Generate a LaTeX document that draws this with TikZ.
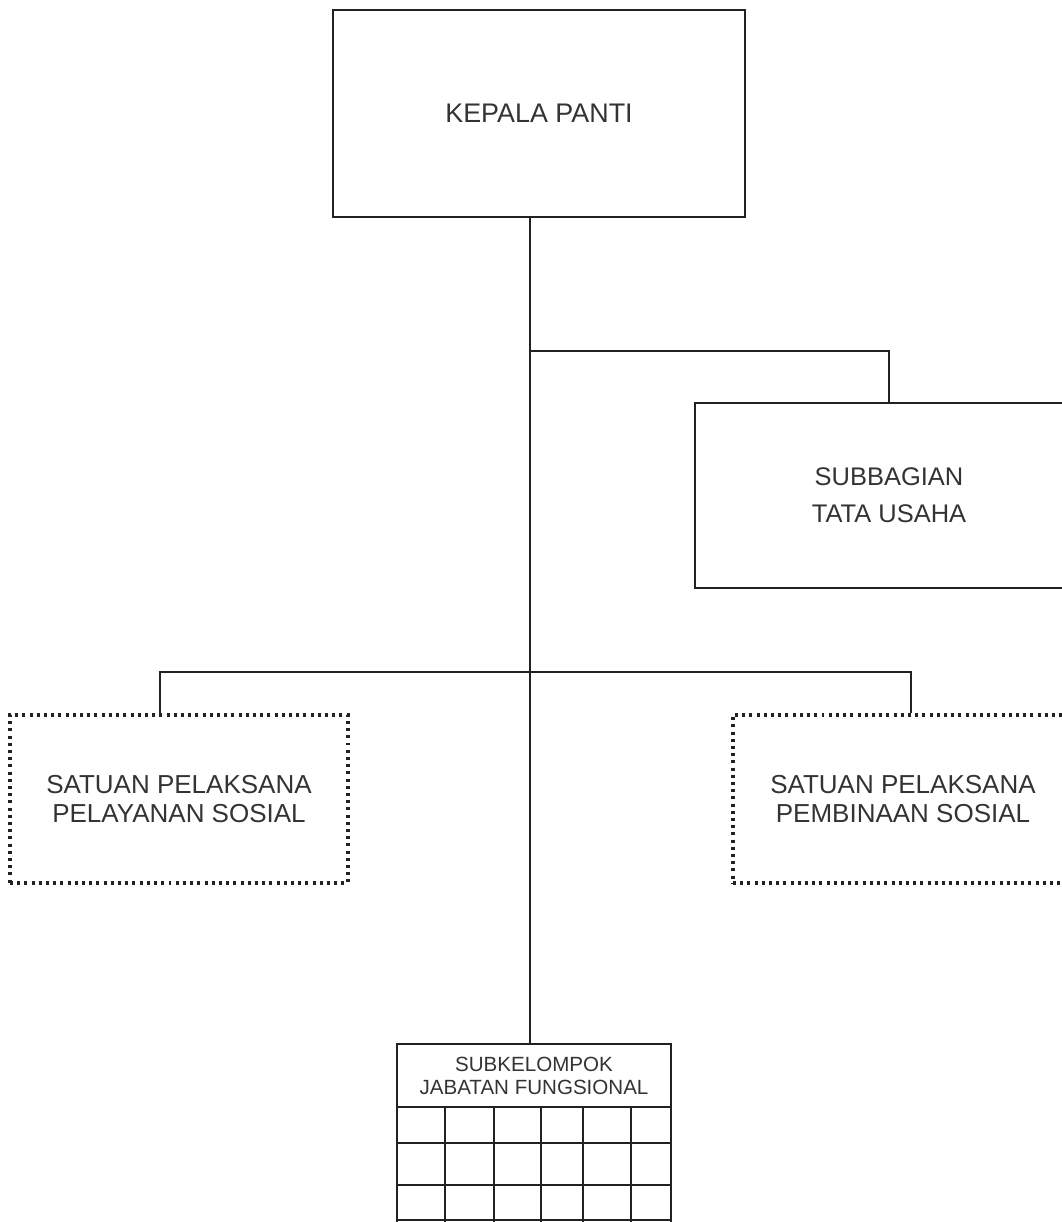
\documentclass[tikz,border=0pt]{standalone}
\usepackage{fontspec}
\setmainfont{Liberation Sans}
\definecolor{myInk}{HTML}{222222}
\definecolor{myText}{HTML}{333333}

\begin{document}
\begin{tikzpicture}[x=0.2mm, y=-0.2mm, line width=1.2pt, myInk]

  \tikzstyle{K}=[rectangle,draw=myInk,text=myText,align=center,inner sep=2pt]
  \tikzstyle{D}=[K,line width=2pt,dash pattern=on 1.7pt off 2.4pt]

  \useasboundingbox (0,0) rectangle (1062,1222);

  \node[K, minimum width=82.4mm, minimum height=41.4mm, font=\fontsize{15.3}{18}\selectfont] at (539,113.5) (kepala) {KEPALA PANTI};

  \node[K, minimum width=77.6mm, minimum height=37mm, font=\fontsize{14.5}{21}\selectfont] at (889,495.5) (tu) {SUBBAGIAN\\TATA USAHA};

  \node[D, minimum width=67.6mm, minimum height=33.6mm, font=\fontsize{14.8}{17}\selectfont] at (179,799) (pelayanan) {SATUAN PELAKSANA\\PELAYANAN SOSIAL};
  \node[D, minimum width=68mm, minimum height=33.6mm, font=\fontsize{14.8}{17}\selectfont] at (903,799) (pembinaan) {SATUAN PELAKSANA\\PEMBINAAN SOSIAL};

  \node[K, minimum width=54.8mm, minimum height=12.6mm, font=\fontsize{11.7}{13}\selectfont] at (534,1075.5) (fungsional) {SUBKELOMPOK\\JABATAN FUNGSIONAL};

  % grid under the functional group
  \foreach \gx in {397,445,494,541,583,631,671}
    \draw (\gx,1107) -- (\gx,1222);
  \foreach \gy in {1143,1185,1220}
    \draw (397,\gy) -- (671,\gy);

  \coordinate (cabTU) at (531,351);
  \coordinate (cabKiri) at (160,672);
  \coordinate (cabKanan) at (911,672);

  \draw [] ([xshift=-0.8mm]fungsional.north |- kepala.south) to ([xshift=-0.8mm]fungsional.north);
  \draw [] (cabTU) -| (tu.north);
  \draw [] (pelayanan.north -| cabKiri) -- (cabKiri) -- (cabKanan) -- (pembinaan.north -| cabKanan);

\end{tikzpicture}
\end{document}
